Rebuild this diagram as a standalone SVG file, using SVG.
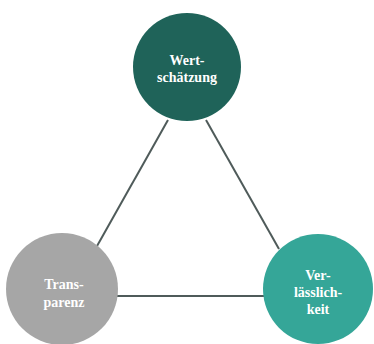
<svg xmlns="http://www.w3.org/2000/svg" width="374" height="344" viewBox="0 0 374 344">
<style>
.lbl{font-family:"Liberation Serif","DejaVu Serif",serif;font-weight:bold;font-size:14px;fill:#ffffff;text-anchor:middle}
.con{stroke:#4f5b5a;stroke-width:2;fill:none}
</style>
<rect width="374" height="344" fill="#ffffff"/>
<g id="connectors">
<line class="con" x1="168" y1="120" x2="97" y2="246"/>
<line class="con" x1="206" y1="120" x2="279" y2="249"/>
<line class="con" x1="117" y1="296" x2="264" y2="296"/>
</g>
<g id="wertschaetzung">
<circle cx="187" cy="67" r="54" fill="#1f6359"/>
<text class="lbl" x="187" y="65">Wert-</text>
<text class="lbl" x="187" y="82">schätzung</text>
</g>
<g id="transparenz">
<circle cx="62" cy="289" r="56" fill="#a6a6a6"/>
<text class="lbl" x="64" y="289">Trans-</text>
<text class="lbl" x="64" y="307">parenz</text>
</g>
<g id="verlaesslichkeit">
<circle cx="318" cy="289" r="55" fill="#35a698"/>
<text class="lbl" x="318" y="280">Ver-</text>
<text class="lbl" x="318" y="297">lässlich-</text>
<text class="lbl" x="318" y="314">keit</text>
</g>
</svg>
